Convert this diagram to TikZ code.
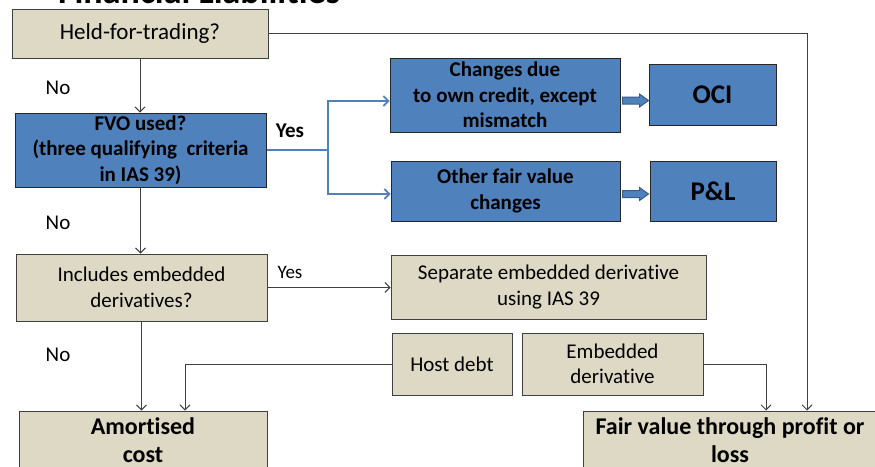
\documentclass[tikz,border=0pt]{standalone}
\usepackage{fontspec}
\setmainfont{Carlito}[Ligatures=NoCommon]
\usetikzlibrary{arrows.meta,calc}
\definecolor{beige}{HTML}{DDD9C4}
\definecolor{boxblue}{HTML}{4F81BD}
\definecolor{darkblue}{HTML}{385D8A}
\definecolor{linegray}{HTML}{404040}
\newcommand{\myblockarrow}[1]{\draw[barrow] (#1) ++(0,-3.5) -- ++(17,0) -- ++(0,-3) -- ++(9,6.5) -- ++(-9,6.5) -- ++(0,-3) -- ++(-17,0) -- cycle;}
\begin{document}
\begin{tikzpicture}[x=1pt,y=-1pt,
  base/.style={draw=linegray, line width=1pt, inner sep=1pt, align=center, font=\fontsize{21}{25.5}\selectfont},
  beigebox/.style={base, fill=beige},
  bluebox/.style={base, fill=boxblue, draw=black!85, font=\fontsize{21}{25.5}\selectfont\bfseries},
  conn/.style={draw=linegray, line width=0.9pt, -{Straight Barb[length=5pt,width=10pt]}},
  blueconn/.style={draw=boxblue, line width=1.6pt, -{Straight Barb[length=5pt,width=10pt]}},
  lbl/.style={font=\fontsize{21}{25}\selectfont, inner sep=0pt},
  barrow/.style={fill=boxblue, draw=darkblue, line width=1pt}]
\useasboundingbox (0,0) rectangle (875,466);
\clip (0,0) rectangle (875,466);
\fill[white] (0,0) rectangle (875,466);

% title (cut off at top)
\node[anchor=base, inner sep=0pt, font=\fontsize{36}{40}\selectfont\bfseries] (title) at (199,3) {Financial Liabilities};

% boxes
\node[beigebox, minimum width=256pt, minimum height=49pt, font=\fontsize{23}{27}\selectfont] (held) at (140,33.5) {Held-for-trading?};
\node[bluebox, minimum width=251pt, minimum height=74pt] (fvo) at (140.5,150) {FVO used?\\(three qualifying\ \ criteria\\in IAS 39)};
\node[bluebox, minimum width=230pt, minimum height=74pt] (changes) at (505,95) {Changes due\\to own credit, except\\mismatch};
\node[bluebox, minimum width=127pt, minimum height=61pt, font=\fontsize{27}{30}\selectfont\bfseries] (oci) at (712.5,94.5) {OCI};
\node[bluebox, minimum width=229pt, minimum height=60pt] (other) at (505.5,191) {Other fair value\\changes};
\node[bluebox, minimum width=126pt, minimum height=60pt, font=\fontsize{27}{30}\selectfont\bfseries] (pl) at (713,191) {P\&L};
\node[beigebox, minimum width=251pt, minimum height=67pt] (incl) at (141.5,287.5) {Includes embedded\\derivatives?};
\node[beigebox, minimum width=315pt, minimum height=64pt] (sep) at (548.5,287) {Separate embedded derivative\\using IAS 39};
\node[beigebox, minimum width=120pt, minimum height=62pt] (host) at (452,364) {Host debt};
\node[beigebox, minimum width=181pt, minimum height=62pt] (emb) at (612.5,364) {Embedded\\derivative};
\node[beigebox, minimum width=248pt, minimum height=58pt, font=\fontsize{24}{28}\selectfont\bfseries] (amort) at (143,440) {Amortised\\cost};
\node[beigebox, minimum width=294pt, minimum height=58pt, font=\fontsize{24}{28}\selectfont\bfseries] (fv) at (730,440) {Fair value through profit or\\loss};

% labels
\node[lbl] (no1) at (58,88) {No};
\node[lbl] (no2) at (58,223) {No};
\node[lbl] (no3) at (58,355) {No};
\node[lbl, font=\fontsize{21}{25}\selectfont\bfseries] (yes1) at (290,131) {Yes};
\node[lbl, font=\fontsize{19}{23}\selectfont] (yes2) at (290,272) {Yes};

% trunk coordinates
\coordinate (trunk) at (807,0);
\coordinate (fvtap) at (766,0);
\coordinate (amtap) at (185,0);
\coordinate (split) at (328,0);

% connectors
\draw[conn] (held.east) -| (fv.north -| trunk);
\draw[conn] (held.south) -- (held.south |- fvo.north);
\draw[conn] (fvo.south) -- (fvo.south |- incl.north);
\draw[conn] (incl.east) -- (incl.east -| sep.west);
\draw[conn] (incl.south) -- (incl.south |- amort.north);
\draw[conn] (host.west) -| (amort.north -| amtap);
\draw[conn] (emb.east) -| (fv.north -| fvtap);
\draw[blueconn] (fvo.east) -- (fvo.east -| split) |- ($(changes.west)+(0,6)$);
\draw[blueconn] (fvo.east) -- (fvo.east -| split) |- ($(other.west)+(0,3)$);

% block arrows
\myblockarrow{$(changes.east)+(2,5.5)$}
\myblockarrow{$(other.east)+(2,3)$}
\end{tikzpicture}
\end{document}
